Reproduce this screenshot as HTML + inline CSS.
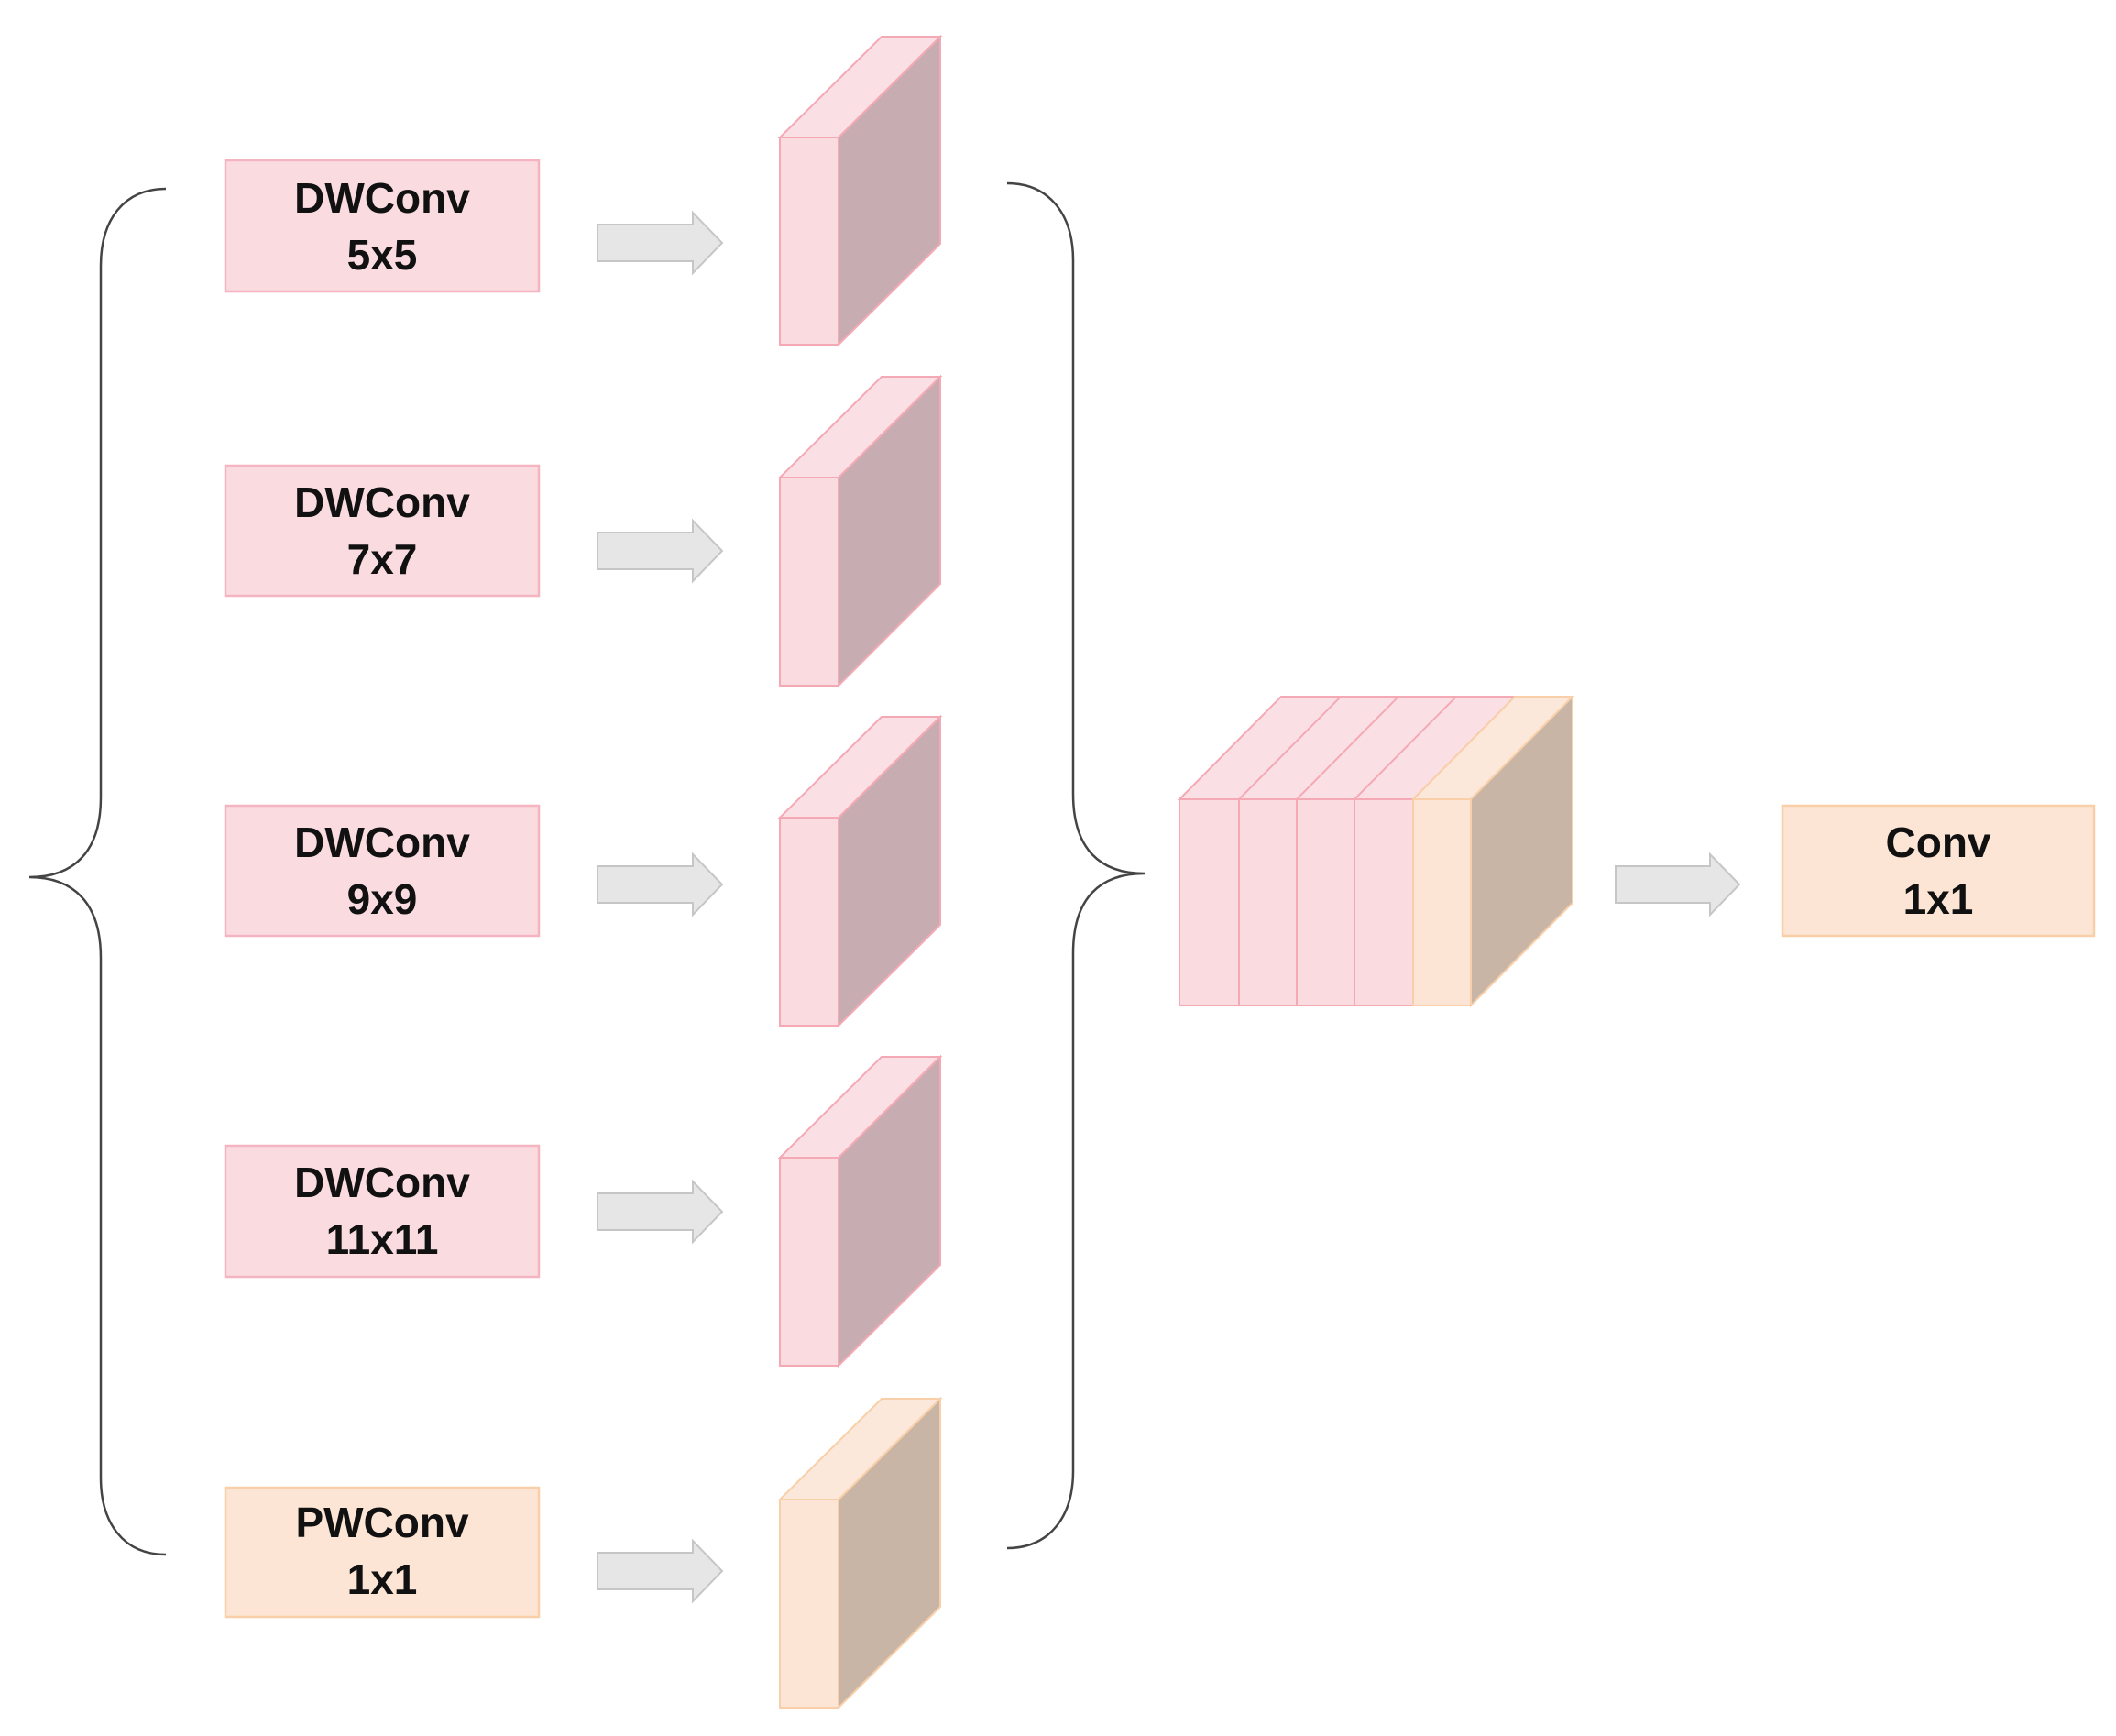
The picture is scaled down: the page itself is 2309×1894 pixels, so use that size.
<!DOCTYPE html>
<html><head><meta charset="utf-8"><style>
html,body{margin:0;padding:0;background:#fff;}
svg{display:block;}
text{font-family:"Liberation Sans",Arial,sans-serif;font-weight:bold;font-size:46px;fill:#111;text-anchor:middle;}
</style></head><body>
<svg width="2309" height="1894" viewBox="0 0 2309 1894" xmlns="http://www.w3.org/2000/svg">
<rect width="2309" height="1894" fill="#fff"/>
<!-- left brace -->
<path d="M181 206 C135 206 110 240 110 290 L110 870 C110 930 80 957 32 957 C80 957 110 985 110 1045 L110 1612 C110 1662 135 1696 181 1696" fill="none" stroke="#444" stroke-width="2.5"/>
<!-- right brace -->
<path d="M1099 200 C1145 200 1171 234 1171 284 L1171 866 C1171 926 1200 953 1249 953 C1200 953 1171 980 1171 1040 L1171 1605 C1171 1655 1145 1689 1099 1689" fill="none" stroke="#444" stroke-width="2.5"/>

<!-- boxes -->
<g stroke-width="2.5">
<rect x="246" y="175" width="342" height="143" fill="#f9dbe0" stroke="#f4b5c0"/>
<rect x="246" y="508" width="342" height="142" fill="#f9dbe0" stroke="#f4b5c0"/>
<rect x="246" y="879" width="342" height="142" fill="#f9dbe0" stroke="#f4b5c0"/>
<rect x="246" y="1250" width="342" height="143" fill="#f9dbe0" stroke="#f4b5c0"/>
<rect x="246" y="1623" width="342" height="141" fill="#fce5d4" stroke="#f8cfa8"/>
<rect x="1945" y="879" width="340" height="142" fill="#fce5d4" stroke="#f8cfa8"/>
</g>
<text x="417" y="232">DWConv</text><text x="417" y="294">5x5</text>
<text x="417" y="564">DWConv</text><text x="417" y="626">7x7</text>
<text x="417" y="935">DWConv</text><text x="417" y="997">9x9</text>
<text x="417" y="1306">DWConv</text><text x="417" y="1368">11x11</text>
<text x="417" y="1677">PWConv</text><text x="417" y="1739">1x1</text>
<text x="2115" y="935">Conv</text><text x="2115" y="997">1x1</text>

<!-- arrows -->
<g fill="#e6e6e6" stroke="#c6c6c6" stroke-width="2">
<path d="M652 245 L756 245 L756 232 L788 265 L756 298 L756 285 L652 285 Z"/>
<path d="M652 581 L756 581 L756 568 L788 601 L756 634 L756 621 L652 621 Z"/>
<path d="M652 945 L756 945 L756 932 L788 965 L756 998 L756 985 L652 985 Z"/>
<path d="M652 1302 L756 1302 L756 1289 L788 1322 L756 1355 L756 1342 L652 1342 Z"/>
<path d="M652 1694 L756 1694 L756 1681 L788 1714 L756 1747 L756 1734 L652 1734 Z"/>
<path d="M1763 945 L1866 945 L1866 932 L1898 965 L1866 998 L1866 985 L1763 985 Z"/>
</g>

<!-- thin cubes -->
<g stroke-width="2">
<g id="c1">
<polygon points="851,150 962,40 1026,40 915,150" fill="#fae0e5" stroke="#f4a9b5"/>
<polygon points="915,150 1026,40 1026,266 915,376" fill="#c7adb1" stroke="#f4a9b5"/>
<rect x="851" y="150" width="64" height="226" fill="#f9dbe0" stroke="#f4a9b5"/>
</g>
<polygon points="851,521 962,411 1026,411 915,521" fill="#fae0e5" stroke="#f4a9b5"/>
<polygon points="915,521 1026,411 1026,637 915,748" fill="#c7adb1" stroke="#f4a9b5"/>
<rect x="851" y="521" width="64" height="227" fill="#f9dbe0" stroke="#f4a9b5"/>

<polygon points="851,892 962,782 1026,782 915,892" fill="#fae0e5" stroke="#f4a9b5"/>
<polygon points="915,892 1026,782 1026,1009 915,1119" fill="#c7adb1" stroke="#f4a9b5"/>
<rect x="851" y="892" width="64" height="227" fill="#f9dbe0" stroke="#f4a9b5"/>

<polygon points="851,1263 962,1153 1026,1153 915,1263" fill="#fae0e5" stroke="#f4a9b5"/>
<polygon points="915,1263 1026,1153 1026,1380 915,1490" fill="#c7adb1" stroke="#f4a9b5"/>
<rect x="851" y="1263" width="64" height="227" fill="#f9dbe0" stroke="#f4a9b5"/>

<polygon points="851,1636 962,1526 1026,1526 915,1636" fill="#fce8da" stroke="#f8cfa8"/>
<polygon points="915,1636 1026,1526 1026,1753 915,1863" fill="#c8b5a6" stroke="#f8cfa8"/>
<rect x="851" y="1636" width="64" height="227" fill="#fce5d4" stroke="#f8cfa8"/>
</g>

<!-- big stacked cube -->
<g stroke-width="2">
<polygon points="1287,872 1398,760 1653,760 1542,872" fill="#fae0e5" stroke="#f4a9b5"/>
<polygon points="1542,872 1653,760 1716,760 1605,872" fill="#fce8da" stroke="#f8cfa8"/>
<line x1="1352" y1="872" x2="1463" y2="760" stroke="#f4a9b5"/>
<line x1="1415" y1="872" x2="1526" y2="760" stroke="#f4a9b5"/>
<line x1="1478" y1="872" x2="1589" y2="760" stroke="#f4a9b5"/>
<polygon points="1605,872 1716,760 1716,985 1605,1097" fill="#c8b5a6" stroke="#f8cfa8"/>
<rect x="1287" y="872" width="65" height="225" fill="#f9dbe0" stroke="#f4a9b5"/>
<rect x="1352" y="872" width="63" height="225" fill="#f9dbe0" stroke="#f4a9b5"/>
<rect x="1415" y="872" width="63" height="225" fill="#f9dbe0" stroke="#f4a9b5"/>
<rect x="1478" y="872" width="64" height="225" fill="#f9dbe0" stroke="#f4a9b5"/>
<rect x="1542" y="872" width="63" height="225" fill="#fce5d4" stroke="#f8cfa8"/>
</g>
</svg>
</body></html>
